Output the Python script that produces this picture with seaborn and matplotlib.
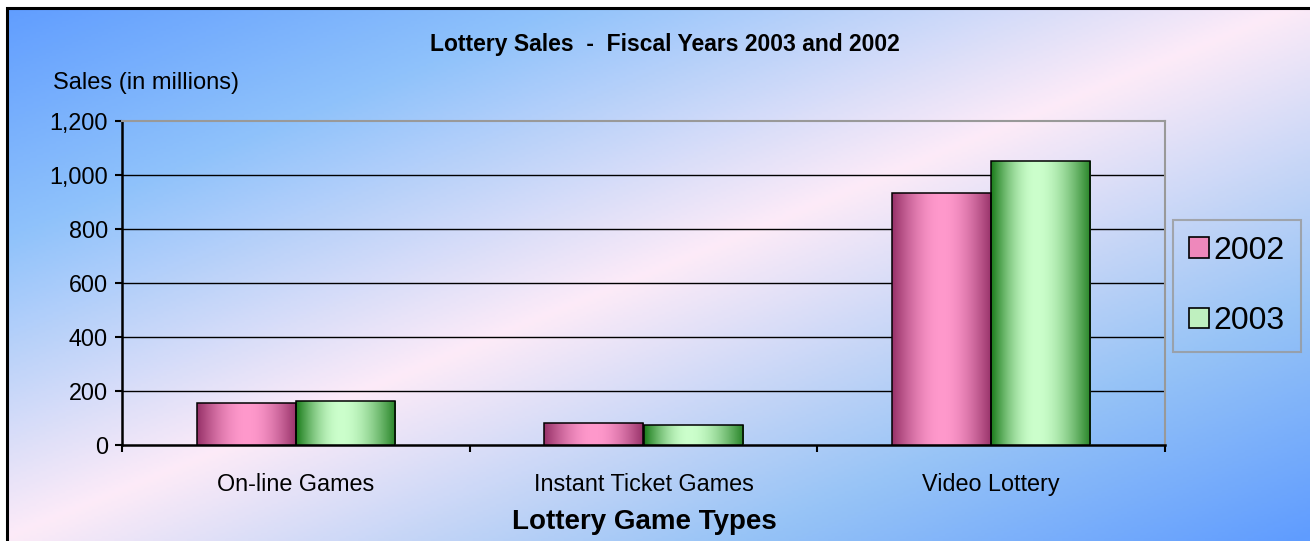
import numpy as np
import pandas as pd
import matplotlib
matplotlib.use("Agg")
import matplotlib.pyplot as plt
from matplotlib.colors import LinearSegmentedColormap, to_rgb
from matplotlib.patches import Patch, Rectangle
from matplotlib.ticker import FuncFormatter
import seaborn as sns

# ---- data ----
categories = ["On-line Games", "Instant Ticket Games", "Video Lottery"]
years = ["2002", "2003"]
sales_2002 = [155, 81, 933]
sales_2003 = [163, 74, 1051]
y_ticks = [0, 200, 400, 600, 800, 1000, 1200]

title = "Lottery Sales  -  Fiscal Years 2003 and 2002"
y_title = "Sales (in millions)"
x_title = "Lottery Game Types"

df = pd.DataFrame({
    "category": categories * 2,
    "year": [years[0]] * 3 + [years[1]] * 3,
    "sales": sales_2002 + sales_2003,
})

sns.set_theme(style="white")
plt.rcParams["font.family"] = ["Liberation Sans", "DejaVu Sans"]
plt.rcParams["text.color"] = "black"
plt.rcParams["xtick.color"] = "black"
plt.rcParams["ytick.color"] = "black"
plt.rcParams["axes.labelcolor"] = "black"

W, H = 1310, 541
fig = plt.figure(figsize=(W / 100, H / 100), dpi=100)
fig.patch.set_facecolor("white")

# ---- background gradient ----
bg_ax = fig.add_axes([7 / W, 0, 1 - 7 / W, 1 - 8 / H], zorder=-10)
bg_ax.set_axis_off()
gx, gy = np.meshgrid(np.linspace(7 / W, 1, 400), np.linspace(8 / H, 1, 200))
t = (gx + gy) / 2.0
bg_cmap = LinearSegmentedColormap.from_list(
    "bg", [(0.0, "#5f9cff"), (0.22, "#8fc2fb"), (0.5, "#fdebf8"),
           (0.78, "#98c4f6"), (1.0, "#5f9cff")])
bg_ax.imshow(t, cmap=bg_cmap, vmin=0, vmax=1, aspect="auto",
             extent=[0, 1, 0, 1], origin="upper")
bg_ax.set_xlim(0, 1)
bg_ax.set_ylim(0, 1)
fig.patches.append(Rectangle((7 / W, -0.02), 1.02 - 7 / W, 1.02 - 8 / H,
                             transform=fig.transFigure, fill=False,
                             edgecolor="black", linewidth=2.2, zorder=5))

# ---- main axes ----
ax = fig.add_axes([122 / W, (H - 445) / H, (1165 - 122) / W, (445 - 121) / H])
ax.patch.set_alpha(0)

sns.barplot(data=df, x="category", y="sales", hue="year", order=categories,
            hue_order=years, palette=["#e67fb3", "#9fdc9f"], width=0.57,
            edgecolor="black", linewidth=1.1, legend=False, ax=ax,
            saturation=1, zorder=3)

def grad_colors(dark_l, light, dark_r, peak, n=64):
    x = np.linspace(0, 1, n)
    dl, li, dr = np.array(to_rgb(dark_l)), np.array(to_rgb(light)), np.array(to_rgb(dark_r))
    out = np.zeros((1, n, 3))
    for i, xv in enumerate(x):
        if xv <= peak:
            s = np.sin(0.5 * np.pi * xv / peak)
            out[0, i] = dl + (li - dl) * s
        else:
            s = np.sin(0.5 * np.pi * (1 - xv) / (1 - peak))
            out[0, i] = dr + (li - dr) * s
    return out

pink_grad = grad_colors("#98336a", "#ff99cc", "#98336a", 0.5)
green_grad = grad_colors("#1e7e1e", "#ccffcc", "#2a862a", 0.45)

for cont, grad in zip(ax.containers, [pink_grad, green_grad]):
    for bar in cont:
        x0, y0 = bar.get_x(), bar.get_y()
        w, h = bar.get_width(), bar.get_height()
        im = ax.imshow(grad, extent=[x0, x0 + w, y0, y0 + h], aspect="auto",
                       zorder=3.1, interpolation="bilinear")
        im.set_clip_path(bar)
        bar.set_facecolor("none")
        bar.set_zorder(3.2)

ax.set_xlim(-0.5, 2.5)
ax.set_ylim(0, 1200)
ax.set_yticks(y_ticks)
ax.yaxis.set_major_formatter(FuncFormatter(lambda v, p: f"{v:,.0f}"))
ax.set_xlabel("")
ax.set_ylabel("")

ax.grid(axis="y", color="black", linewidth=1.0)
ax.set_axisbelow(True)
ax.get_ygridlines()[-1].set_visible(False)
ax.get_ygridlines()[0].set_visible(False)

for side in ["left", "bottom"]:
    ax.spines[side].set_color("black")
    ax.spines[side].set_linewidth(1.8)
for side in ["top", "right"]:
    ax.spines[side].set_visible(True)
    ax.spines[side].set_color("#999999")
    ax.spines[side].set_linewidth(1.5)

ax.tick_params(axis="y", direction="out", length=5, width=1.5, color="black",
               labelsize=16.8, pad=5, left=True, labelcolor="black")
ax.tick_params(axis="x", which="major", length=0, labelsize=16.8, pad=20,
               labelcolor="black")
ax.set_xticks([-0.5, 0.5, 1.5, 2.5], minor=True)
ax.tick_params(axis="x", which="minor", direction="out", length=5, width=1.5,
               color="black", bottom=True)

# ---- texts ----
fig.text(665 / W, 1 - 45 / H, title, ha="center", va="center",
         fontsize=16.5, fontweight="bold", color="black")
fig.text(53 / W, 1 - 83 / H, y_title, ha="left", va="center", fontsize=17,
         color="black")
fig.text(644 / W, 1 - 522 / H, x_title, ha="center", va="center",
         fontsize=20, fontweight="bold", color="black")

# ---- legend ----
handles = [Patch(facecolor="#ee88bb", edgecolor="black", linewidth=1.2),
           Patch(facecolor="#bff0bf", edgecolor="black", linewidth=1.2)]
leg = fig.legend(handles, years, loc="center",
                 bbox_to_anchor=(1237 / W, 1 - 286 / H), fontsize=23,
                 handlelength=0.6, handleheight=0.6, handletextpad=0.15,
                 labelspacing=1.27, borderpad=0.5, fancybox=False,
                 frameon=True, labelcolor="black")
leg.get_frame().set_facecolor("none")
leg.get_frame().set_edgecolor("#999999")
leg.get_frame().set_linewidth(1.5)

fig.savefig("out.png", dpi=100)
